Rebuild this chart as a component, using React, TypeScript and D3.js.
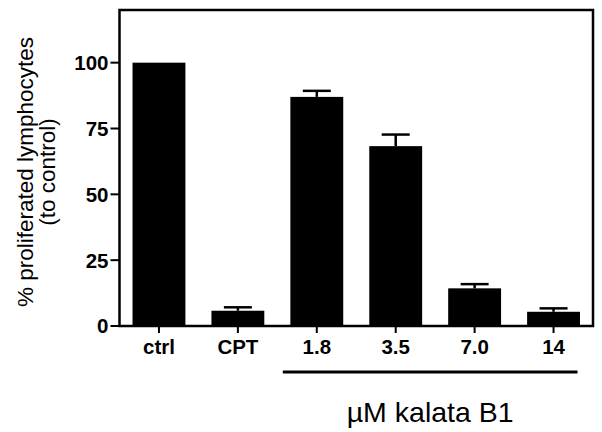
import React from "react";
import * as d3 from "d3";

const categories = ["ctrl", "CPT", "1.8", "3.5", "7.0", "14"];
const means = [100, 5.8, 87, 68.3, 14.3, 5.4];
const errors = [0, 1.3, 2.3, 4.4, 1.6, 1.3];
const yTicks = [0, 25, 50, 75, 100];

const App = () => {
  const width = 602;
  const height = 432;
  const margin = { top: 10, right: 9, bottom: 106, left: 119.5 };
  const innerW = width - margin.left - margin.right;
  const innerH = height - margin.top - margin.bottom;

  const x = d3.scaleBand().domain(categories).range([0, innerW]).paddingInner(0.33).paddingOuter(0.165);
  const y = d3.scaleLinear().domain([0, 120]).range([innerH, 0]);

  const font = "'Liberation Sans', Arial, sans-serif";
  const capW = 28;
  const first = x("1.8")! + x.bandwidth() / 2 - 34;
  const last = x("14")! + x.bandwidth() / 2 + 24;

  return (
    <svg width={width} height={height} style={{ position: "absolute", left: 0, top: 0 }}>
      <g transform={`translate(${margin.left},${margin.top})`}>
        {categories.map((c, i) => {
          const cx = x(c)! + x.bandwidth() / 2;
          return (
            <g key={c}>
              {errors[i] > 0 && (
                <g stroke="#000" strokeWidth={2.5}>
                  <line x1={cx} x2={cx} y1={y(means[i])} y2={y(means[i] + errors[i])} />
                  <line x1={cx - capW / 2} x2={cx + capW / 2} y1={y(means[i] + errors[i])} y2={y(means[i] + errors[i])} />
                </g>
              )}
              <rect x={x(c)} y={y(means[i])} width={x.bandwidth()} height={y(0) - y(means[i])} fill="#000" />
              <line x1={cx} x2={cx} y1={innerH} y2={innerH + 7} stroke="#000" strokeWidth={2} />
              <text x={cx} y={innerH + 28} textAnchor="middle" fontFamily={font} fontWeight="bold" fontSize={20.5}>
                {c}
              </text>
            </g>
          );
        })}
        <rect x={0} y={0} width={innerW} height={innerH} fill="none" stroke="#000" strokeWidth={2.5} />
        {yTicks.map(t => (
          <g key={t} transform={`translate(0,${y(t)})`}>
            <line x1={-9} x2={0} stroke="#000" strokeWidth={2} />
            <text x={-11} dy="0.36em" textAnchor="end" fontFamily={font} fontWeight="bold" fontSize={20.5}>
              {t}
            </text>
          </g>
        ))}
        <line x1={first} x2={last} y1={innerH + 46} y2={innerH + 46} stroke="#000" strokeWidth={3} />
        <text x={(first + last) / 2} y={innerH + 96} textAnchor="middle" fontFamily={font} fontSize={28.5}>
          µM kalata B1
        </text>
      </g>
      <g transform={`translate(33,172) rotate(-90)`} fontFamily={font} fontSize={22.5} textAnchor="middle">
        <text x={0} y={0}>% proliferated lymphocytes</text>
        <text x={0} y={22}>(to control)</text>
      </g>
    </svg>
  );
};

export default App;
